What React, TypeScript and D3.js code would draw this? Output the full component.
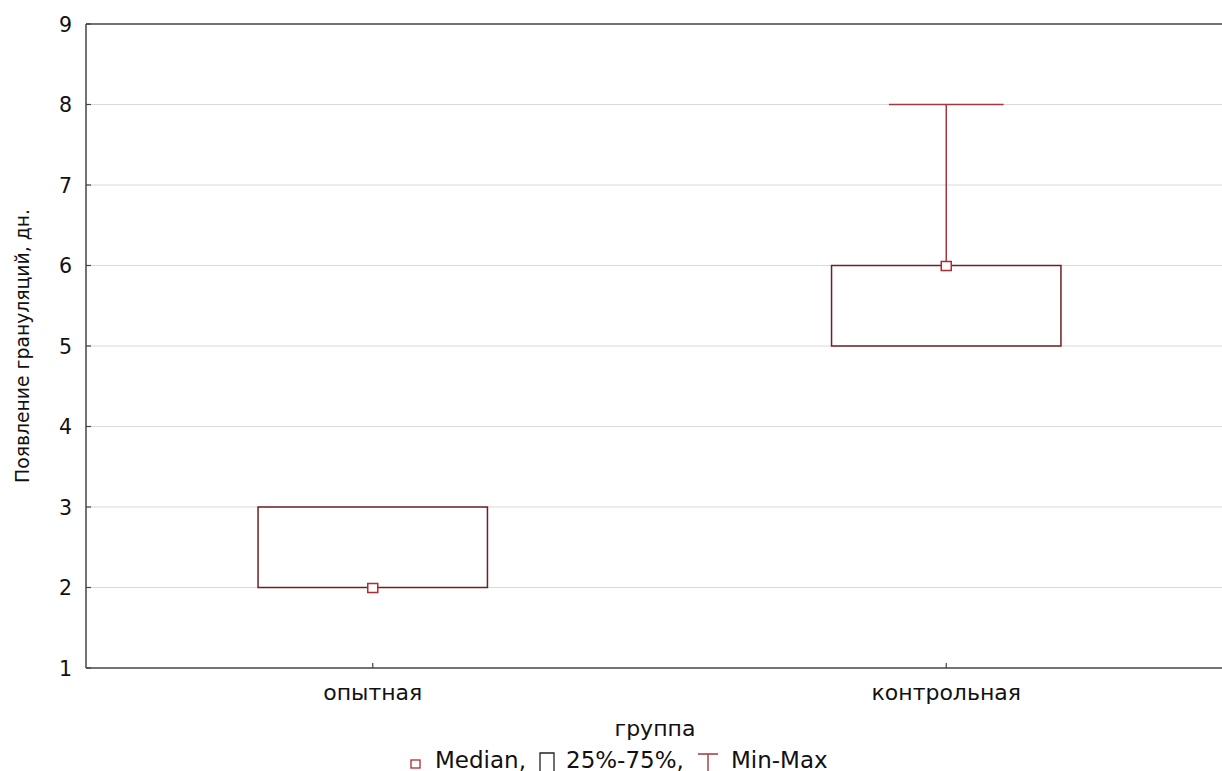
import React from "react";
import * as d3 from "d3";

const categories = ["опытная", "контрольная"];
const medians = [2, 6];
const q1s = [2, 5];
const q3s = [3, 6];
const mins = [2, 5];
const maxs = [3, 8];
const yTicks = [1, 2, 3, 4, 5, 6, 7, 8, 9];

const W = 1222;
const H = 771;
const left = 86;
const right = 1233;
const top = 24;
const bottom = 668;

export default function App() {
  const y = d3.scaleLinear().domain([1, 9]).range([bottom, top]);
  const x = d3.scaleBand().domain(categories).range([left, right]).padding(0);
  const bw = x.bandwidth();
  const boxW = bw * 0.4;
  const capW = bw * 0.2;
  const boxColor = "#6e2025";
  const whiskerColor = "#a3383c";
  const medColor = "#b02a2e";
  const font = "DejaVu Sans, Verdana, sans-serif";

  return (
    <svg width={W} height={H} style={{ position: "absolute", left: 0, top: 0, background: "#fff" }} fontFamily={font}>
      {/* gridlines */}
      {yTicks.slice(1, -1).map((t) => (
        <line key={"g" + t} x1={left} x2={right} y1={y(t)} y2={y(t)} stroke="#dadada" strokeWidth={1.2} />
      ))}
      {/* frame */}
      <line x1={left} x2={right} y1={top} y2={top} stroke="#444" strokeWidth={1.5} />
      <line x1={left} x2={right} y1={bottom} y2={bottom} stroke="#444" strokeWidth={1.5} />
      <line x1={left} x2={left} y1={top} y2={bottom} stroke="#444" strokeWidth={1.5} />
      {/* y ticks */}
      {yTicks.map((t) => (
        <g key={"t" + t}>
          <line x1={left} x2={left + 5} y1={y(t)} y2={y(t)} stroke="#444" strokeWidth={1.2} />
          <text x={72} y={y(t) + 7.5} textAnchor="end" fontSize={20.5} fill="#111">{t}</text>
        </g>
      ))}
      {/* x ticks & labels */}
      {categories.map((c) => {
        const cx = (x(c) as number) + bw / 2;
        return (
          <g key={"x" + c}>
            <line x1={cx} x2={cx} y1={bottom} y2={bottom - 5} stroke="#444" strokeWidth={1.2} />
            <text x={cx} y={700} textAnchor="middle" fontSize={22} fill="#111">{c}</text>
          </g>
        );
      })}
      {/* boxes */}
      {categories.map((c, i) => {
        const cx = (x(c) as number) + bw / 2;
        return (
          <g key={"b" + c}>
            {maxs[i] > q3s[i] && (
              <>
                <line x1={cx} x2={cx} y1={y(q3s[i])} y2={y(maxs[i])} stroke={whiskerColor} strokeWidth={1.5} />
                <line x1={cx - capW / 2} x2={cx + capW / 2} y1={y(maxs[i])} y2={y(maxs[i])} stroke={whiskerColor} strokeWidth={1.5} />
              </>
            )}
            {mins[i] < q1s[i] && (
              <>
                <line x1={cx} x2={cx} y1={y(q1s[i])} y2={y(mins[i])} stroke={whiskerColor} strokeWidth={1.5} />
                <line x1={cx - capW / 2} x2={cx + capW / 2} y1={y(mins[i])} y2={y(mins[i])} stroke={whiskerColor} strokeWidth={1.5} />
              </>
            )}
            <rect x={cx - boxW / 2} y={y(q3s[i])} width={boxW} height={y(q1s[i]) - y(q3s[i])} fill="none" stroke={boxColor} strokeWidth={1.5} />
            <rect x={cx - 5} y={y(medians[i]) - 4} width={10} height={9} fill="#fff" stroke={medColor} strokeWidth={1.5} />
          </g>
        );
      })}
      {/* axis titles */}
      <text x={655} y={736} textAnchor="middle" fontSize={22} fill="#111">группа</text>
      <text transform={`translate(29,${(top + bottom) / 2}) rotate(-90)`} textAnchor="middle" fontSize={18.8} fill="#111">Появление грануляций, дн.</text>
      {/* legend */}
      <g>
        <rect x={411} y={760} width={9} height={8} fill="#fff" stroke={medColor} strokeWidth={1.3} />
        <text x={435} y={768} fontSize={23} fill="#111">Median,</text>
        <path d="M540,773 L540,753 L554,753 L554,773" fill="none" stroke="#222" strokeWidth={1.3} />
        <text x={566} y={768} fontSize={23} fill="#111">25%-75%,</text>
        <path d="M698,754 L718,754 M708,754 L708,773" fill="none" stroke={whiskerColor} strokeWidth={1.4} />
        <text x={731} y={768} fontSize={23} fill="#111">Min-Max</text>
      </g>
    </svg>
  );
}
